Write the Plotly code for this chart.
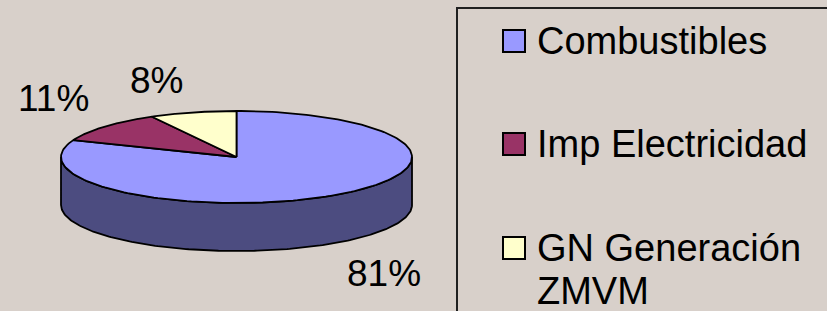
import numpy as np
import plotly.graph_objects as go

categories = ["Combustibles", "Imp Electricidad", "GN Generación ZMVM"]
legend_lines = [["Combustibles"], ["Imp Electricidad"], ["GN Generación", "ZMVM"]]
values = [81, 11, 8]
top_colors = ["#9999FF", "#993366", "#FFFFCC"]
side_colors = ["#4C4C80", "#4D1A33", "#808066"]

W, H = 827, 311
BG = "#D8D0CA"
FONT = "Liberation Sans, Arial, sans-serif"

# pie geometry (pixel-space axes)
cx, cy, rx, ry, depth = 236.5, 157.0, 175.5, 46.0, 48.0

total = sum(values)
fracs = [v / total for v in values]
starts = np.cumsum([0] + fracs[:-1])

def ex(t):
    return cx + rx * np.sin(t)

def ey(t, d=0.0):
    return cy - ry * np.cos(t) + d

fig = go.Figure()

# side walls (front half only: t in [pi/2, 3pi/2])
for i, (s, f) in enumerate(zip(starts, fracs)):
    a0, a1 = 2 * np.pi * s, 2 * np.pi * (s + f)
    lo, hi = max(a0, np.pi / 2), min(a1, 3 * np.pi / 2)
    if hi <= lo:
        continue
    t = np.linspace(lo, hi, 200)
    xs = np.concatenate([ex(t), ex(t[::-1]), [ex(t[0])]])
    ys = np.concatenate([ey(t), ey(t[::-1], depth), [ey(t[0])]])
    fig.add_trace(go.Scatter(x=xs, y=ys, mode="lines", fill="toself",
                             fillcolor=side_colors[i],
                             line=dict(color="black", width=1.8),
                             hoverinfo="skip", showlegend=False))

# top faces
for i, (s, f) in enumerate(zip(starts, fracs)):
    t = np.linspace(2 * np.pi * s, 2 * np.pi * (s + f), 200)
    xs = np.concatenate([[cx], ex(t), [cx]])
    ys = np.concatenate([[cy], ey(t), [cy]])
    fig.add_trace(go.Scatter(x=xs, y=ys, mode="lines", fill="toself",
                             fillcolor=top_colors[i],
                             line=dict(color="black", width=1.8),
                             hoverinfo="skip", showlegend=False))

# percentage labels placed outward from slice mid-angles
label_k = [(1.5, 1.81), (1.387, 1.92), (1.84, 1.715)]
for i, (s, f) in enumerate(zip(starts, fracs)):
    m = 2 * np.pi * (s + f / 2)
    kx, ky = label_k[i]
    lx = cx + rx * kx * np.sin(m)
    ly = cy - ry * ky * np.cos(m) + (depth if np.cos(m) < 0 else 0)
    fig.add_annotation(x=lx, y=ly, text=f"{round(100 * f)}%", showarrow=False,
                       xanchor="center", yanchor="middle",
                       font=dict(family=FONT, size=37, color="black"))

# legend
legend_left, legend_top = 457, 8
fig.add_shape(type="rect", x0=legend_left, y0=legend_top, x1=W + 10, y1=H + 10,
              line=dict(color="#202020", width=2), fillcolor="rgba(0,0,0,0)", layer="above")
row_y = [41, 144, 248]
line_gap = 43
for i, lines in enumerate(legend_lines):
    fig.add_trace(go.Scatter(x=[514], y=[row_y[i]], mode="markers",
                             marker=dict(symbol="square", size=22, color=top_colors[i],
                                         line=dict(color="black", width=2)),
                             hoverinfo="skip", showlegend=False))
    for j, txt in enumerate(lines):
        fig.add_annotation(x=535, y=row_y[i] + j * line_gap, text=txt, showarrow=False,
                           xanchor="left", yanchor="middle",
                           font=dict(family=FONT, size=38, color="black"))

fig.update_layout(
    width=W, height=H, autosize=False,
    margin=dict(l=0, r=0, t=0, b=0),
    paper_bgcolor=BG, plot_bgcolor=BG,
    xaxis=dict(range=[0, W], visible=False, fixedrange=True),
    yaxis=dict(range=[H, 0], visible=False, fixedrange=True),
    showlegend=False,
)

fig.write_html("out.html", config={"displayModeBar": False},
               post_script="document.body.style.margin='0';document.body.style.overflow='hidden';")
